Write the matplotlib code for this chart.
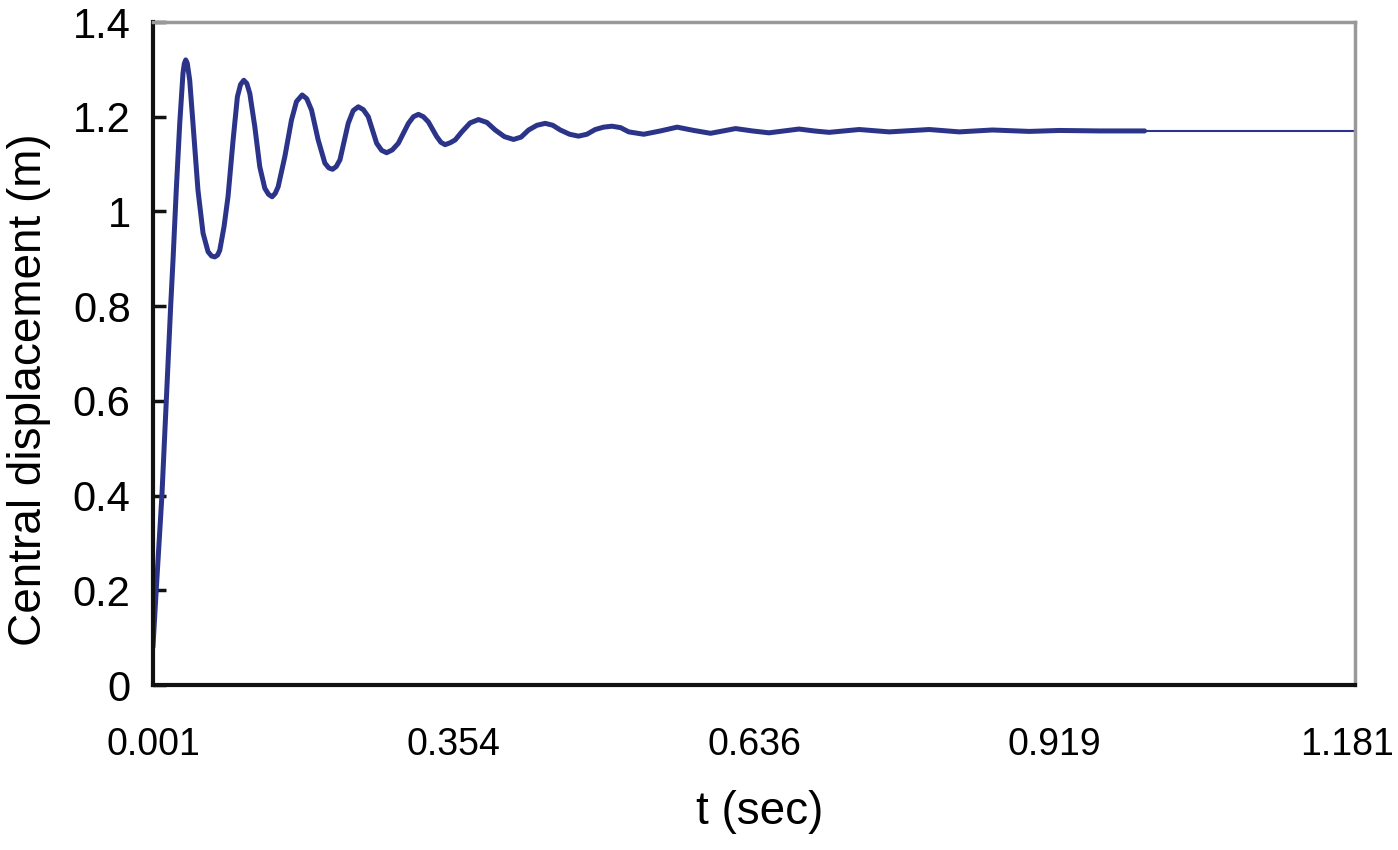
import numpy as np
import matplotlib
matplotlib.use("Agg")
import matplotlib.pyplot as plt
from matplotlib.transforms import ScaledTranslation

# time (s) and central displacement (m)
t = [0.001, 0.0042, 0.0098, 0.0141, 0.0184, 0.0207, 0.0239, 0.0273, 0.0305, 0.0318,
     0.0332, 0.0347, 0.0371, 0.0403, 0.0452, 0.0502, 0.0551, 0.0585, 0.0617, 0.0645,
     0.0666, 0.0708, 0.0747, 0.0797, 0.0839, 0.0870, 0.0902, 0.0932, 0.0961, 0.1010,
     0.1059, 0.1108, 0.1145, 0.1180, 0.1210, 0.1239, 0.1305, 0.1370, 0.1419, 0.1475,
     0.1520, 0.1567, 0.1632, 0.1698, 0.1736, 0.1773, 0.1810, 0.1846, 0.1927, 0.1976,
     0.2026, 0.2075, 0.2124, 0.2206, 0.2255, 0.2304, 0.2360, 0.2419, 0.2518, 0.2567,
     0.2616, 0.2665, 0.2714, 0.2796, 0.2837, 0.2878, 0.2928, 0.2977, 0.3042, 0.3124,
     0.3206, 0.3288, 0.3370, 0.3460, 0.3550, 0.3624, 0.3698, 0.3780, 0.3861, 0.3935,
     0.4009, 0.4100, 0.4188, 0.4270, 0.4352, 0.4434, 0.4516, 0.4600, 0.4681, 0.4828,
     0.4992, 0.5156, 0.5320, 0.5484, 0.5607, 0.5730, 0.5894, 0.6058, 0.6205, 0.6352,
     0.6500, 0.6648, 0.6943, 0.7238, 0.7631, 0.7926, 0.8251, 0.8614, 0.8909, 0.9303,
     0.9745]
disp = [0.080, 0.200, 0.400, 0.600, 0.800, 0.897, 1.045, 1.186, 1.292, 1.312,
        1.320, 1.313, 1.277, 1.186, 1.045, 0.954, 0.915, 0.906, 0.904, 0.908,
        0.918, 0.968, 1.031, 1.151, 1.242, 1.268, 1.277, 1.270, 1.249, 1.179,
        1.094, 1.049, 1.036, 1.031, 1.038, 1.052, 1.116, 1.193, 1.232, 1.246,
        1.238, 1.214, 1.151, 1.102, 1.092, 1.089, 1.095, 1.109, 1.186, 1.213,
        1.221, 1.215, 1.200, 1.144, 1.129, 1.124, 1.130, 1.144, 1.186, 1.200,
        1.205, 1.200, 1.189, 1.158, 1.146, 1.141, 1.145, 1.151, 1.168, 1.187,
        1.194, 1.188, 1.172, 1.158, 1.152, 1.157, 1.172, 1.182, 1.186, 1.182,
        1.172, 1.163, 1.159, 1.163, 1.173, 1.178, 1.180, 1.177, 1.168, 1.163,
        1.170, 1.178, 1.171, 1.165, 1.170, 1.175, 1.170, 1.166, 1.170, 1.174,
        1.170, 1.167, 1.173, 1.168, 1.173, 1.168, 1.172, 1.169, 1.171, 1.170,
        1.170]

# thin tail after the thick series ends
t_tail = [0.9745, 1.181]
disp_tail = [1.170, 1.170]

xtick_labels = ["0.001", "0.354", "0.636", "0.919", "1.181"]
yticks = [0, 0.2, 0.4, 0.6, 0.8, 1.0, 1.2, 1.4]
ytick_labels = ["0", "0.2", "0.4", "0.6", "0.8", "1", "1.2", "1.4"]

font = ["Liberation Sans", "DejaVu Sans"]
line_color = "#2b3488"

fig = plt.figure(figsize=(13.98, 8.5), dpi=100)
ax = fig.add_axes([0.1094, 0.1941, 0.8598, 0.7800])

ax.plot(t, disp, color=line_color, lw=3.6, solid_joinstyle="round", solid_capstyle="round")
ax.plot(t_tail, disp_tail, color=line_color, lw=1.5)

ax.set_xlim(0.001, 1.181)
ax.set_ylim(0, 1.4)

ax.set_xticks(np.linspace(0.001, 1.181, len(xtick_labels)))
ax.set_xticklabels(xtick_labels, family=font, fontsize=27)
ax.tick_params(axis="x", length=0, pad=30)
# last label sits a little inside the right edge, as in the original
last = ax.get_xticklabels()[-1]
last.set_transform(last.get_transform() + ScaledTranslation(-8 / 100, 0, fig.dpi_scale_trans))

ax.set_yticks(yticks)
ax.set_yticklabels(ytick_labels, family=font, fontsize=30)
ax.tick_params(axis="y", direction="in", length=9, width=2.5, pad=16, color="#111111")

for side in ["left", "bottom"]:
    ax.spines[side].set_color("#111111")
    ax.spines[side].set_linewidth(3)
for side in ["top", "right"]:
    ax.spines[side].set_color("#999999")
    ax.spines[side].set_linewidth(2.5)

ax.set_xlabel("t (sec)", family=font, fontsize=33)
ax.xaxis.set_label_coords(0.505, -0.158)
ax.set_ylabel("Central displacement (m)", family=font, fontsize=33)
ax.yaxis.set_label_coords(-0.085, 0.445)

fig.savefig("out.png", dpi=100)
